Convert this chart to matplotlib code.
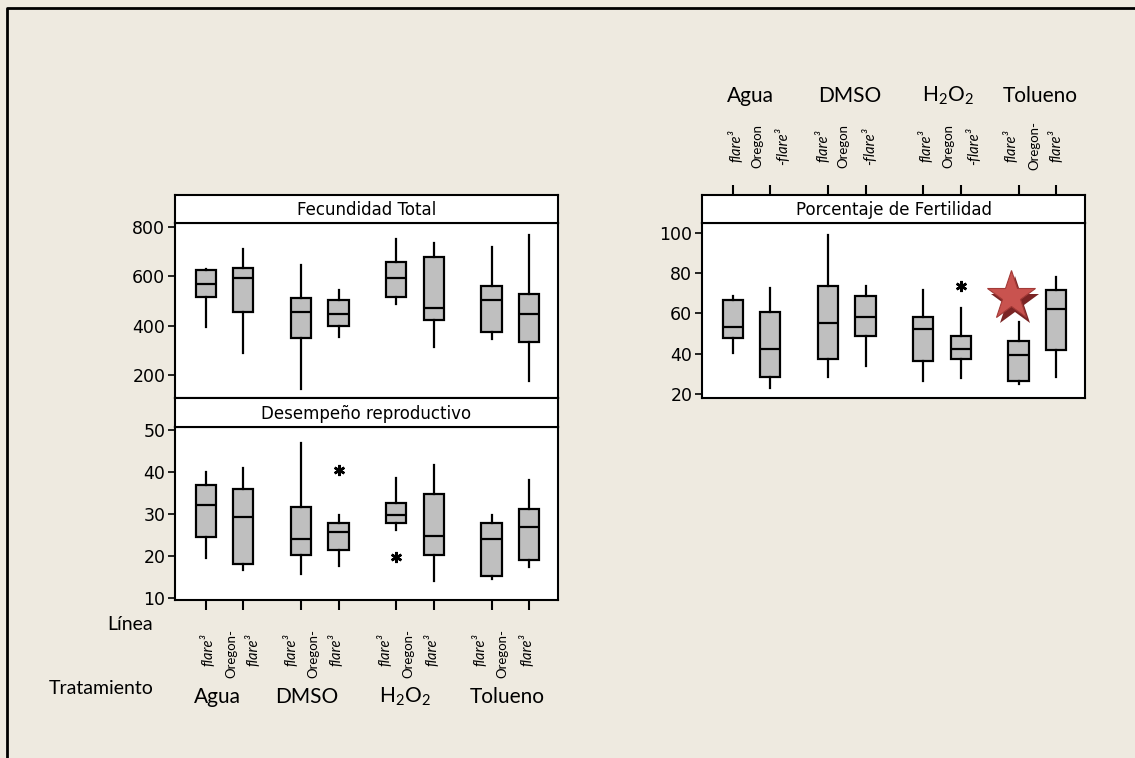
import matplotlib
matplotlib.use("Agg")
import matplotlib.pyplot as plt
import matplotlib.transforms as mtransforms
from matplotlib.lines import Line2D

plt.rcParams["font.family"] = ["DejaVu Sans"]
plt.rcParams["mathtext.fontset"] = "custom"
plt.rcParams["mathtext.rm"] = "Lato"

# ---- data ----
groups = ["Agua", "DMSO", "H$_{2}$O$_{2}$", "Tolueno"]

# Fecundidad Total: whislo, q1, med, q3, whishi
fec_lo = [394, 288, 145, 353, 490, 312, 345, 177]
fec_q1 = [518, 456, 352, 401, 518, 424, 376, 336]
fec_med = [568, 593, 457, 449, 593, 474, 505, 448]
fec_q3 = [625, 633, 514, 505, 658, 681, 562, 529]
fec_hi = [630, 711, 647, 545, 751, 735, 719, 767]
fec_out = [[], [], [], [], [], [], [], []]

# Desempeno reproductivo
des_lo = [19.5, 16.7, 15.8, 17.7, 26.2, 14.0, 14.5, 17.4]
des_q1 = [24.6, 18.1, 20.4, 21.5, 27.9, 20.4, 15.3, 19.1]
des_med = [32.2, 29.4, 24.2, 25.7, 29.9, 24.7, 24.2, 27.0]
des_q3 = [36.9, 35.9, 31.7, 28.0, 32.7, 34.9, 28.0, 31.2]
des_hi = [40.0, 41.0, 47.0, 29.8, 38.6, 41.6, 29.8, 38.1]
des_out = [[], [], [], [40.4], [19.9], [], [], []]

# Porcentaje de Fertilidad
fer_lo = [40.2, 22.7, 28.6, 33.6, 26.6, 27.8, 25.0, 28.6]
fer_q1 = [48.0, 28.5, 37.3, 49.0, 36.1, 37.3, 26.5, 41.9]
fer_med = [53.2, 42.2, 55.0, 58.0, 52.0, 42.2, 39.4, 62.2]
fer_q3 = [66.8, 60.7, 73.6, 68.6, 58.0, 49.0, 46.2, 71.8]
fer_hi = [68.5, 72.4, 99.2, 73.4, 71.8, 62.7, 55.7, 78.1]
fer_out = [[], [], [], [], [], [73.4], [], []]

star_value = 68.5

W, H = 1135, 758
BG = "#eeeae0"
positions = [0, 1, 2.55, 3.55, 5.1, 6.1, 7.65, 8.65]
XLIM = (-0.83, 9.43)

fig = plt.figure(figsize=(W / 100, H / 100), dpi=100, facecolor=BG)


def px_axes(x0, y0, x1, y1):
    return fig.add_axes([x0 / W, 1 - y1 / H, (x1 - x0) / W, (y1 - y0) / H])


def make_stats(lo, q1, med, q3, hi, out):
    return [dict(whislo=a, q1=b, med=c, q3=d, whishi=e, fliers=f)
            for a, b, c, d, e, f in zip(lo, q1, med, q3, hi, out)]


def draw_panel(ax, stats, ylim, yticks):
    ax.bxp(stats, positions=positions, widths=0.54, patch_artist=True,
           showcaps=False,
           boxprops=dict(facecolor="#bfbfbf", edgecolor="black", linewidth=1.6),
           medianprops=dict(color="black", linewidth=1.6),
           whiskerprops=dict(color="black", linewidth=1.6),
           flierprops=dict(marker=(6, 2, 0), markersize=8, markeredgecolor="black",
                           markeredgewidth=1.8, linestyle="none"))
    ax.set_xlim(*XLIM)
    ax.set_ylim(*ylim)
    ax.set_yticks(yticks)
    ax.set_facecolor("white")
    for s in ax.spines.values():
        s.set_linewidth(1.5)
    ax.tick_params(axis="y", length=5, width=1.2, labelsize=12.5, pad=2)


def draw_strip(ax, title):
    ax.set_facecolor("white")
    ax.set_xlim(*XLIM)
    ax.set_yticks([])
    ax.set_xticks([])
    for s in ax.spines.values():
        s.set_linewidth(1.5)
    ax.text(0.5, 0.45, title, transform=ax.transAxes, ha="center", va="center", fontsize=12)


# left top panel
ax1 = px_axes(175, 223, 558, 398)
draw_panel(ax1, make_stats(fec_lo, fec_q1, fec_med, fec_q3, fec_hi, fec_out), (107, 817), [200, 400, 600, 800])
ax1.set_xticks([])
draw_strip(px_axes(175, 195, 558, 223), "Fecundidad Total")

# left bottom panel
ax2 = px_axes(175, 427, 558, 600)
draw_panel(ax2, make_stats(des_lo, des_q1, des_med, des_q3, des_hi, des_out), (9.6, 50.7), [10, 20, 30, 40, 50])
ax2.set_xticks(positions)
ax2.set_xticklabels([])
ax2.tick_params(axis="x", length=7, width=1.5, direction="out")
draw_strip(px_axes(175, 398, 558, 427), "Desempeño reproductivo")

# right panel
ax3 = px_axes(702, 223, 1085, 398)
draw_panel(ax3, make_stats(fer_lo, fer_q1, fer_med, fer_q3, fer_hi, fer_out), (17.9, 105), [20, 40, 60, 80, 100])
ax3.set_xticks([])
sr = px_axes(702, 195, 1085, 223)
draw_strip(sr, "Porcentaje de Fertilidad")
sr.set_xticks(positions)
sr.set_xticklabels([])
sr.tick_params(axis="x", top=True, bottom=False, length=7, width=1.5, direction="out")

# star marker with shadow
star_x = positions[6] - 0.2
ax3.plot(star_x + 0.1, star_value - 2.8, marker="*", ms=37, color="#7a2424",
         markeredgewidth=0, zorder=5, clip_on=False)
ax3.plot(star_x, star_value, marker="*", ms=37, color="#c9534f",
         markeredgecolor="#a33a37", markeredgewidth=0.8, zorder=6, clip_on=False)

# category labels
lab_font = ["Lato", "DejaVu Sans"]
bot_tr = mtransforms.blended_transform_factory(ax2.transData, fig.transFigure)
top_tr = mtransforms.blended_transform_factory(ax3.transData, fig.transFigure)


def fy(y):
    return 1 - y / H


bot_off = [(0.05, -0.32, 0.27), (-0.27, -0.66, -0.07), (-0.31, -0.69, -0.06), (-0.31, -0.70, -0.06)]
top_off = [(0.08, -0.35, 0.32), (-0.14, -0.59, 0.11), (0.06, -0.33, 0.34), (-0.2, -0.58, 0.0)]
top_second = [("Oregon", "-flare³")] * 3 + [("Oregon-", "flare³")]
bot_group_x = [0.32, 2.71, 5.33, 8.07]
top_group_x = [0.48, 3.12, 5.75, 8.22]

for g in range(4):
    p1, p2 = positions[2 * g], positions[2 * g + 1]
    o = bot_off[g]
    ax2.text(p1 + o[0], fy(650), "flare³", transform=bot_tr, rotation=90, style="italic",
             ha="center", va="center", fontsize=10.5, family=lab_font)
    ax2.text(p2 + o[1], fy(653), "Oregon-", transform=bot_tr, rotation=90,
             ha="center", va="center", fontsize=9.5, family=lab_font)
    ax2.text(p2 + o[2], fy(650), "flare³", transform=bot_tr, rotation=90, style="italic",
             ha="center", va="center", fontsize=10.5, family=lab_font)
    ax2.text(bot_group_x[g], fy(697), groups[g], transform=bot_tr, ha="center", va="center",
             fontsize=15, family=lab_font)

    o = top_off[g]
    a, b = top_second[g]
    ax3.text(p1 + o[0], fy(146), "flare³", transform=top_tr, rotation=90, style="italic",
             ha="center", va="center", fontsize=10.5, family=lab_font)
    ax3.text(p2 + o[1], fy(146), a, transform=top_tr, rotation=90,
             ha="center", va="center", fontsize=9.5, family=lab_font)
    ax3.text(p2 + o[2], fy(146), b, transform=top_tr, rotation=90,
             style="normal" if b.startswith("Oregon") else "italic",
             ha="center", va="center", fontsize=10.5, family=lab_font)
    ax3.text(top_group_x[g], fy(96), groups[g], transform=top_tr, ha="center", va="center",
             fontsize=15, family=lab_font)

fig.text(130 / W, fy(625), "Línea", ha="center", va="center", fontsize=14, family=lab_font)
fig.text(101 / W, fy(688), "Tratamiento", ha="center", va="center", fontsize=14, family=lab_font)

# outer frame (top and left edges)
fig.add_artist(Line2D([7 / W, 7 / W, 1.0], [0.0, fy(8), fy(8)], transform=fig.transFigure,
                      color="black", linewidth=2))

fig.savefig("out.png", dpi=100, facecolor=BG)
